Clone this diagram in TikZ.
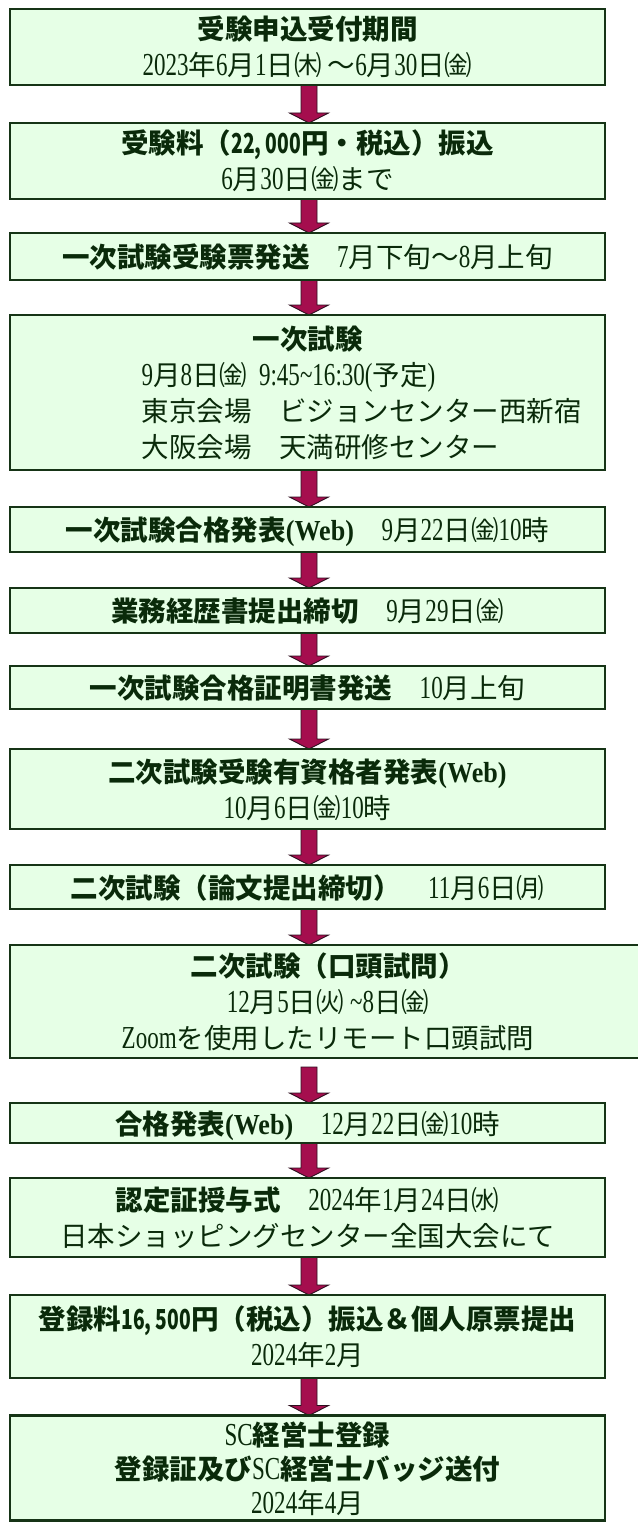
\documentclass[tikz,border=0pt]{standalone}
\usepackage{fontspec}
\setmainfont{Noto Sans CJK JP}
\newfontfamily\serifnum{Liberation Serif}[FakeStretch=0.72]
\newfontfamily\serifweb{Liberation Serif}[FakeStretch=0.9]
\newfontfamily\gothnum{Noto Sans CJK JP}[FakeStretch=0.7]
\usetikzlibrary{calc}
\definecolor{boxfill}{RGB}{230,255,230}
\definecolor{boxline}{RGB}{22,52,22}
\definecolor{txt}{RGB}{10,42,10}
\definecolor{arrfill}{RGB}{165,14,78}
\definecolor{arrline}{RGB}{45,15,30}
\newcommand\nm[1]{{\serifnum\fontsize{32pt}{36pt}\selectfont #1}}
\newcommand\wb[1]{{\serifweb\bfseries\fontsize{29pt}{36pt}\selectfont #1}}
\newcommand\gn[1]{{\gothnum\bfseries #1}}
\newcommand\st{\rule[-7pt]{0pt}{36pt}}
\newcommand\stt{\rule[-6pt]{0pt}{34pt}}
\newcommand\lft[1]{\makebox[332pt][l]{#1}}
\newcommand\flowarrow[3][0pt]{%
  \draw[blockarr] let \p1=(axis|-#2.south), \p2=(axis|-#3.north) in
    (\x1-8pt,\y1-#1) -- (\x1+8pt,\y1-#1) -- (\x1+8pt,\y2+10pt) --
    (\x1+19.5pt,\y2+10pt) -- (\x1,\y2) -- (\x1-19.5pt,\y2+10pt) --
    (\x1-8pt,\y2+10pt) -- cycle;}
\pgfdeclarelayer{bg}
\pgfsetlayers{bg,main}
\begin{document}
\begin{tikzpicture}[x=1pt,y=-1pt,
  flowbox/.style={draw=boxline, fill=boxfill, line width=2.5pt, rectangle,
    inner sep=0pt, outer sep=0pt, align=center, text=txt,
    font=\fontsize{27.5pt}{36pt}\selectfont},
  blockarr/.style={fill=arrfill, draw=arrline, line width=0.9pt, line join=miter}]
\useasboundingbox (0,0) rectangle (637,1522);
\coordinate (axis) at (309,0);

\node[flowbox, minimum width=595pt, minimum height=76pt] (b1) at (307.5,47)
  {\st{\bfseries 受験申込受付期間}\\\st\nm{2023}年\nm{6}月\nm{1}日㈭ ～\nm{6}月\nm{30}日㈮};
\node[flowbox, minimum width=595pt, minimum height=76pt] (b2) at (307.5,161)
  {\st{\bfseries 受験料（\gn{22, 000}円・税込）振込}\\\st\nm{6}月\nm{30}日㈮まで};
\node[flowbox, minimum width=595pt, minimum height=47pt] (b3) at (307.5,256.5)
  {\st{\bfseries 一次試験受験票発送}　\nm{7}月下旬～\nm{8}月上旬};
\node[flowbox, minimum width=595pt, minimum height=155pt] (b4) at (307.5,392.5)
  {\st{\bfseries 一次試験}\\
   \st\lft{\nm{9}月\nm{8}日㈮\hspace{12pt}\nm{9:45\textasciitilde16:30(}予定\nm{)}}\\
   \st\lft{東京会場　ビジョンセンター西新宿}\\
   \st\lft{大阪会場　天満研修センター}};
\node[flowbox, minimum width=595pt, minimum height=45pt] (b5) at (307.5,529.5)
  {\st{\bfseries 一次試験合格発表\wb{(Web)}}　\nm{9}月\nm{22}日㈮\nm{10}時};
\node[flowbox, minimum width=595pt, minimum height=45pt] (b6) at (307.5,610.5)
  {\st{\bfseries 業務経歴書提出締切}　\nm{9}月\nm{29}日㈮};
\node[flowbox, minimum width=595pt, minimum height=43pt] (b7) at (307.5,687.5)
  {\st{\bfseries 一次試験合格証明書発送}　\nm{10}月上旬};
\node[flowbox, minimum width=595pt, minimum height=80pt] (b8) at (307.5,789)
  {\st{\bfseries 二次試験受験有資格者発表\wb{(Web)}}\\\st\nm{10}月\nm{6}日㈮\nm{10}時};
\node[flowbox, minimum width=595pt, minimum height=44pt] (b9) at (307.5,887)
  {\st{\bfseries 二次試験（論文提出締切）}　\nm{11}月\nm{6}日㈪};
\node[flowbox, minimum width=636pt, minimum height=113pt] (b10) at (328,1001.5)
  {\st{\bfseries 二次試験（口頭試問）}\\\st\nm{12}月\nm{5}日㈫ \nm{\textasciitilde8}日㈮\\\st\nm{Zoom}を使用したリモート口頭試問};
\node[flowbox, minimum width=595pt, minimum height=40pt] (b11) at (307.5,1123)
  {\st{\bfseries 合格発表\wb{(Web)}}　\nm{12}月\nm{22}日㈮\nm{10}時};
\node[flowbox, minimum width=595pt, minimum height=79pt] (b12) at (307.5,1217.5)
  {\st{\bfseries 認定証授与式}　\nm{2024}年\nm{1}月\nm{24}日㈬\\\st 日本ショッピングセンター全国大会にて};
\node[flowbox, minimum width=595pt, minimum height=83pt] (b13) at (307.5,1336.5)
  {\st{\bfseries 登録料\gn{16, 500}円（税込）振込＆個人原票提出}\\\st\nm{2024}年\nm{2}月};
\node[flowbox, minimum width=595pt, minimum height=105pt,
      font=\fontsize{27.5pt}{34pt}\selectfont] (b14) at (307.5,1468)
  {\stt\nm{SC}{\bfseries 経営士登録}\\\stt{\bfseries 登録証及び}\nm{SC}{\bfseries 経営士バッジ送付}\\\stt\nm{2024}年\nm{4}月};

\begin{pgfonlayer}{bg}
\flowarrow{b1}{b2}
\flowarrow{b2}{b3}
\flowarrow{b3}{b4}
\flowarrow{b4}{b5}
\flowarrow{b5}{b6}
\flowarrow{b6}{b7}
\flowarrow{b7}{b8}
\flowarrow{b8}{b9}
\flowarrow{b9}{b10}
\flowarrow[9pt]{b10}{b11}
\flowarrow{b11}{b12}
\flowarrow{b12}{b13}
\flowarrow{b13}{b14}
\end{pgfonlayer}
\end{tikzpicture}
\end{document}
